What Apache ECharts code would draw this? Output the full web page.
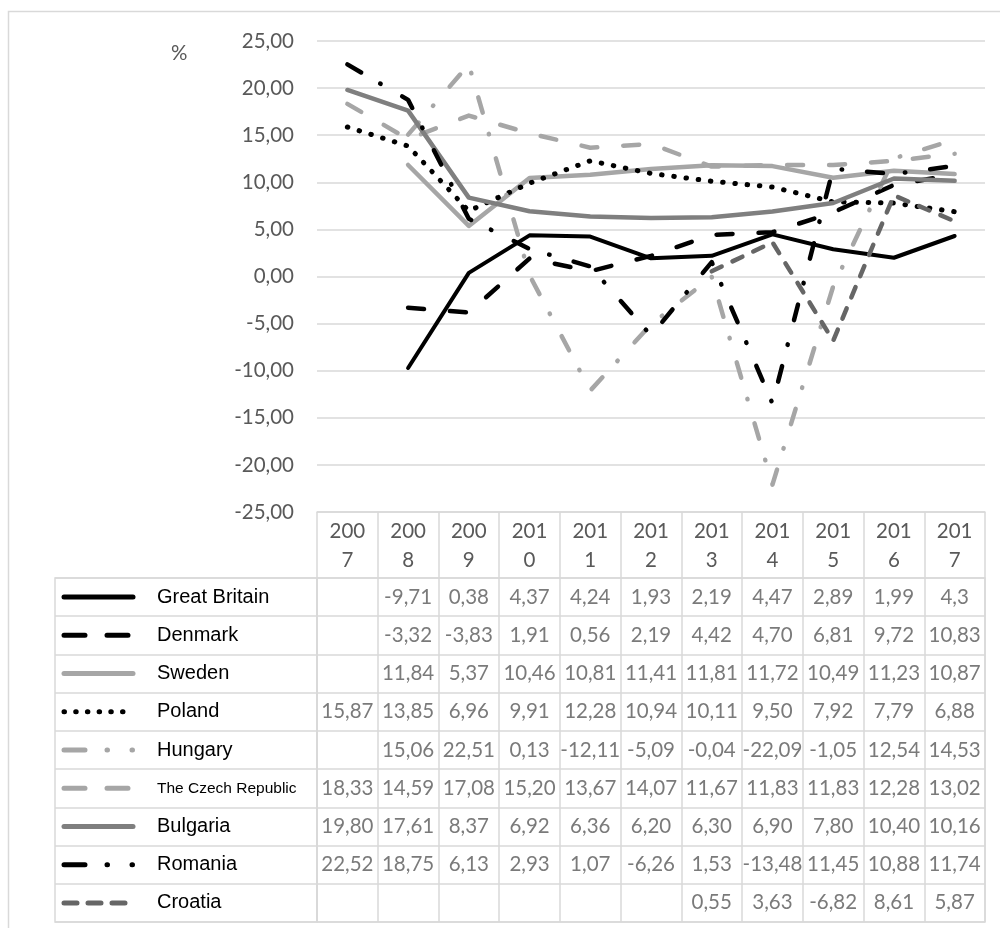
<!DOCTYPE html>
<html><head><meta charset="utf-8">
<script src="https://cdn.jsdelivr.net/npm/echarts@6/dist/echarts.min.js"></script>
<style>html,body{margin:0;padding:0;background:#fff}#c{width:1000px;height:928px}</style>
</head><body><div id="c"></div>
<script>
// ---------- data ----------
const years = ['2007','2008','2009','2010','2011','2012','2013','2014','2015','2016','2017'];
const countries = ['Great Britain','Denmark','Sweden','Poland','Hungary','The Czech Republic','Bulgaria','Romania','Croatia'];
const greatBritain = [null,-9.71,0.38,4.37,4.24,1.93,2.19,4.47,2.89,1.99,4.3];
const denmark      = [null,-3.32,-3.83,1.91,0.56,2.19,4.42,4.70,6.81,9.72,10.83];
const sweden       = [null,11.84,5.37,10.46,10.81,11.41,11.81,11.72,10.49,11.23,10.87];
const poland       = [15.87,13.85,6.96,9.91,12.28,10.94,10.11,9.50,7.92,7.79,6.88];
const hungary      = [null,15.06,22.51,0.13,-12.11,-5.09,-0.04,-22.09,-1.05,12.54,14.53];
const czechRep     = [18.33,14.59,17.08,15.20,13.67,14.07,11.67,11.83,11.83,12.28,13.02];
const bulgaria     = [19.80,17.61,8.37,6.92,6.36,6.20,6.30,6.90,7.80,10.40,10.16];
const romania      = [22.52,18.75,6.13,2.93,1.07,-6.26,1.53,-13.48,11.45,10.88,11.74];
const croatia      = [null,null,null,null,null,null,0.55,3.63,-6.82,8.61,5.87];
const yMin = -25, yMax = 25, yStep = 5;
const unitLabel = '%';

// ---------- styles ----------
const valuesByCountry = [greatBritain, denmark, sweden, poland, hungary, czechRep, bulgaria, romania, croatia];
const rawFormat = [true,false,false,false,false,false,false,false,false];
const styles = [
  {color:'#000000', width:4,   type:'solid'},
  {color:'#000000', width:4.5, type:[16,26]},
  {color:'#a6a6a6', width:4.5, type:'solid'},
  {color:'#000000', width:5,   type:[0.5,11.8]},
  {color:'#a6a6a6', width:4.5, type:[16,22,0.5,25]},
  {color:'#a6a6a6', width:4.5, type:[16,26]},
  {color:'#7f7f7f', width:4.5, type:'solid'},
  {color:'#000000', width:4.5, type:[16,22,0.5,25]},
  {color:'#666666', width:4.5, type:[11,12]}
];
const keyStyles = [
  {color:'#000000', width:5, type:'solid'},
  {color:'#000000', width:5, type:[21,22,21,100]},
  {color:'#a6a6a6', width:5, type:'solid'},
  {color:'#000000', width:5, type:[0.5,11.2]},
  {color:'#a6a6a6', width:5, type:[21,22,0.5,24.5,0.5,60]},
  {color:'#a6a6a6', width:5, type:[21,22,21,100]},
  {color:'#7f7f7f', width:5, type:'solid'},
  {color:'#000000', width:5, type:[21,22,0.5,24.5,0.5,60]},
  {color:'#666666', width:5, type:[13,11]}
];
const NUMFONT = 'Lato';
const LBLFONT = '"Liberation Sans", Arial, sans-serif';
const GRIDC = '#d9d9d9';
const TXTC = '#595959';

function fmt(v, raw){ return (raw ? String(v) : v.toFixed(2)).replace('.', ','); }

const chart = echarts.init(document.getElementById('c'), null, {renderer:'canvas'});

const series = [];
// plot lines
countries.forEach((name, i) => {
  series.push({
    name, type:'line', xAxisIndex:0, yAxisIndex:0,
    data: valuesByCountry[i], symbol:'none', connectNulls:false,
    lineStyle:{color:styles[i].color, width:styles[i].width, type:styles[i].type, cap:'round', join:'round'},
    z: 3 + i
  });
});
// table cells
const cellData = [];
valuesByCountry.forEach((vals, r) => vals.forEach((v, c) => {
  if (v !== null) cellData.push([years[c], countries[r], v, fmt(v, rawFormat[r])]);
}));
series.push({
  type:'scatter', xAxisIndex:1, yAxisIndex:1, data:cellData,
  symbol:'rect', symbolSize:1, itemStyle:{color:'rgba(0,0,0,0)'},
  label:{show:true, position:'inside', formatter:p => p.data[3], color:TXTC, fontFamily:NUMFONT, fontSize:20.5},
  z: 20, silent:true
});
// legend keys
countries.forEach((name, i) => {
  series.push({
    type:'line', xAxisIndex:2, yAxisIndex:2, symbol:'none', silent:true,
    data:[[9, name],[78, name]],
    lineStyle:{color:keyStyles[i].color, width:keyStyles[i].width, type:keyStyles[i].type, cap:'round'},
    z: 20
  });
});

const option = {
  animation:false,
  backgroundColor:'#ffffff',
  title:{text:unitLabel, left:166, top:38, textStyle:{fontFamily:NUMFONT, fontSize:20.5, fontWeight:'normal', color:TXTC}},
  graphic:[{type:'rect', shape:{x:8.5, y:11.5, width:995, height:930}, style:{fill:'none', stroke:GRIDC, lineWidth:1.5}, silent:true, z:0}],
  grid:[
    {left:317, right:15, top:41, bottom:416},
    {left:317, right:15, top:578, bottom:6, show:true, borderColor:GRIDC, borderWidth:1.5, backgroundColor:'transparent'},
    {left:55, right:683, top:578, bottom:6, show:true, borderColor:GRIDC, borderWidth:1.5, backgroundColor:'transparent'}
  ],
  xAxis:[
    {gridIndex:0, type:'category', data:years, boundaryGap:true, position:'bottom',
      axisLine:{show:true, onZero:false, lineStyle:{color:GRIDC, width:1.5}},
      axisTick:{show:true, interval:0, length:66, lineStyle:{color:GRIDC, width:1.5}},
      axisLabel:{interval:0, margin:5, formatter:y => y.slice(0,3)+'\n'+y.slice(3), color:TXTC, fontFamily:NUMFONT, fontSize:20.5, lineHeight:29}},
    {gridIndex:1, type:'category', data:years, boundaryGap:true,
      axisLine:{show:false}, axisTick:{show:false}, axisLabel:{show:false},
      splitLine:{show:true, interval:0, lineStyle:{color:GRIDC, width:1.5}}},
    {gridIndex:2, type:'value', min:0, max:262, show:false}
  ],
  yAxis:[
    {gridIndex:0, type:'value', min:yMin, max:yMax, interval:yStep,
      axisLine:{show:false}, axisTick:{show:false},
      axisLabel:{margin:23, formatter:v => fmt(v,false), color:TXTC, fontFamily:NUMFONT, fontSize:20.5},
      splitLine:{show:true, lineStyle:{color:GRIDC, width:1.5}}},
    {gridIndex:1, type:'category', data:countries, inverse:true,
      axisLine:{show:false}, axisTick:{show:false}, axisLabel:{show:false},
      splitLine:{show:true, interval:0, lineStyle:{color:GRIDC, width:1.5}}},
    {gridIndex:2, type:'category', data:countries, inverse:true,
      axisLine:{show:false}, axisTick:{show:false},
      axisLabel:{show:true, inside:true, interval:0, margin:102, align:'left',
        formatter:n => n === 'The Czech Republic' ? '{s|'+n+'}' : n,
        color:'#000', fontFamily:LBLFONT, fontSize:20,
        rich:{s:{fontSize:15.5, fontFamily:LBLFONT, color:'#000'}}},
      splitLine:{show:true, interval:0, lineStyle:{color:GRIDC, width:1.5}}}
  ],
  series
};
chart.setOption(option);
</script>
</body></html>
